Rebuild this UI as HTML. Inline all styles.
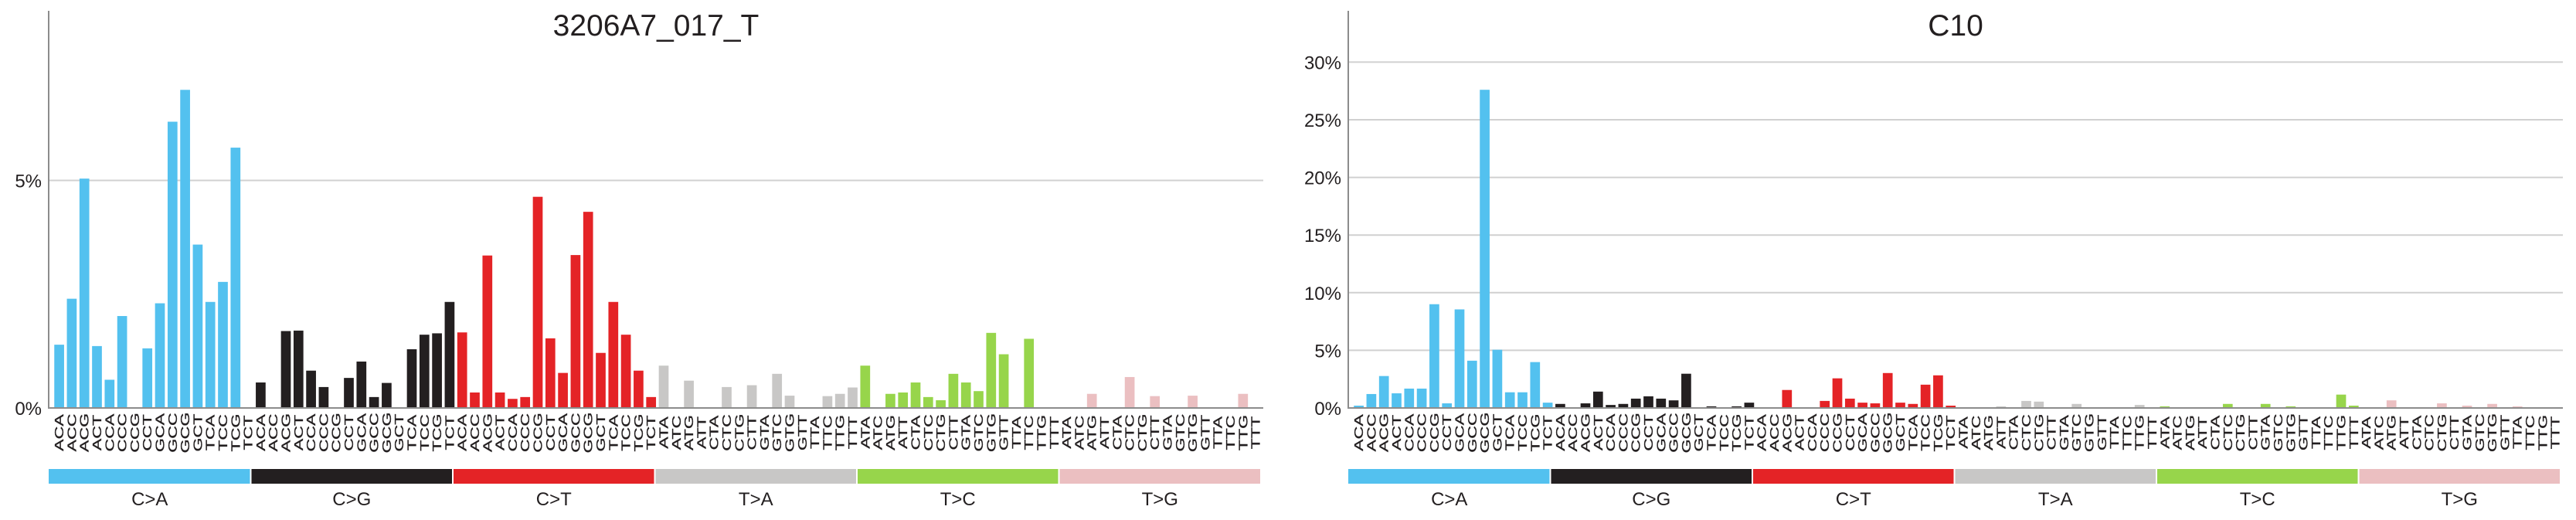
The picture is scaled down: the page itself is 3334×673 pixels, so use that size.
<!DOCTYPE html>
<html><head><meta charset="utf-8"><style>
html,body{margin:0;padding:0;background:#fff;}
svg{display:block;font-family:"Liberation Sans",sans-serif;}
</style></head><body>
<svg id="chart" width="3334" height="673" viewBox="0 0 3334 673" xmlns="http://www.w3.org/2000/svg"></svg>
<script>
// ---- data ----
const mutationTypes = ["C>A","C>G","C>T","T>A","T>C","T>G"];
const bases = ["A","C","G","T"];
const leftTitle = "3206A7_017_T";
const rightTitle = "C10";
const leftValues = [
 1.39,2.40,5.04,1.36,0.62,2.02,0,1.31,2.30,6.29,6.99,3.59,2.33,2.77,5.72,0,
 0.56,0,1.69,1.70,0.82,0.46,0,0.66,1.02,0.24,0.55,0,1.29,1.61,1.64,2.33,
 1.66,0.34,3.35,0.34,0.20,0.24,4.64,1.53,0.77,3.36,4.31,1.21,2.33,1.61,0.82,0.24,
 0.93,0,0.60,0,0,0.46,0,0.50,0,0.75,0.27,0,0,0.26,0.31,0.45,
 0.93,0,0.31,0.34,0.56,0.24,0.17,0.75,0.56,0.37,1.65,1.18,0,1.52,0,0,
 0,0,0.31,0,0,0.68,0,0.26,0,0,0.27,0,0,0,0.31,0
];
const rightValues = [
 0.20,1.21,2.77,1.27,1.68,1.68,9.00,0.40,8.55,4.10,27.6,5.05,1.36,1.36,3.98,0.46,
 0.35,0,0.40,1.42,0.26,0.35,0.81,1.01,0.81,0.66,2.97,0,0.14,0,0.14,0.46,
 0,0,1.56,0,0,0.61,2.57,0.81,0.46,0.40,3.03,0.46,0.35,2.02,2.83,0.20,
 0,0,0,0.14,0,0.61,0.55,0,0,0.35,0,0,0,0,0.26,0,
 0.14,0,0,0,0,0.35,0,0,0.35,0,0.14,0,0,0,1.16,0.20,
 0,0,0.66,0,0,0,0.40,0,0.20,0,0.35,0,0.14,0,0,0
];
const leftTicks = [0,5];
const leftTickLabels = ["0%","5%"];
const rightTicks = [0,5,10,15,20,25,30];
const rightTickLabels = ["0%","5%","10%","15%","20%","25%","30%"];

const colors = ["#53C1EF","#231F20","#E42326","#C8C7C6","#97D54B","#EBBFC1"];
const NS = "http://www.w3.org/2000/svg";
const svg = document.getElementById("chart");
function mk(tag, attrs, parent){
  const e = document.createElementNS(NS, tag);
  for (const k in attrs) e.setAttribute(k, attrs[k]);
  (parent||svg).appendChild(e);
  return e;
}

function drawPanel(ox, values, ticks, tickLabels, pxPerPct, title, pid){
  const g = mk("g", {});
  
  
  const y0 = 528, axisTop = 14, axisX = ox, right = ox + 1572;
  const yScale = v => y0 - v * pxPerPct;
  const xCenter = i => ox + 13.6 + i * 16.3;
  ticks.forEach((t, i) => {
    if (t > 0) {
      const gl = mk("line", {x1: axisX, x2: right, y1: yScale(t), y2: yScale(t), stroke: "#d0d0d0", "stroke-width": 2}, g);
      
      
    }
    const tl = mk("text", {x: axisX - 9, y: yScale(t) + 9, "text-anchor": "end", "font-size": 24, fill: "#231f20"}, g);
    tl.textContent = tickLabels[i];
    
    
  });
  values.forEach((v, i) => {
    const cat = Math.floor(i / 16);
    if (v > 0) {
      const b = mk("rect", {x: xCenter(i) - 6.35, width: 12.7, y: yScale(v), height: v * pxPerPct, fill: colors[cat]}, g);
      
      
    }
    const k = i % 16;
    const ctx = bases[Math.floor(k / 4)] + (cat < 3 ? "C" : "T") + bases[k % 4];
    const t = mk("text", {transform: "translate(" + (xCenter(i) + 5.5) + ",560) rotate(-90) scale(1.45,1)", "text-anchor": "middle", "font-size": 16, fill: "#231f20", stroke: "#231f20", "stroke-width": 0.3}, g);
    t.textContent = ctx;
    
    
  });
  const ya = mk("line", {x1: axisX, x2: axisX, y1: axisTop, y2: y0 + 1, stroke: "#8c8c8c", "stroke-width": 2}, g);
  
  
  const xa = mk("line", {x1: axisX, x2: right, y1: y0, y2: y0, stroke: "#8c8c8c", "stroke-width": 2}, g);
  
  
  const segW = 1569 / 6;
  mutationTypes.forEach((m, c) => {
    const sx = ox + c * segW;
    const r = mk("rect", {x: sx + (c ? 1 : 0), y: 607, width: segW - (c ? 2 : 1), height: 19, fill: colors[c]}, g);
    
    
    const lt = mk("text", {x: sx + segW / 2, y: 654, "text-anchor": "middle", "font-size": 24, fill: "#231f20"}, g);
    lt.textContent = m;
    
    
  });
  const tt = mk("text", {x: ox + 786, y: 46, "text-anchor": "middle", "font-size": 39, fill: "#231f20"}, g);
  tt.textContent = title;
  
  
}
drawPanel(63, leftValues, leftTicks, leftTickLabels, 58.9, leftTitle, "left");
drawPanel(1745, rightValues, rightTicks, rightTickLabels, 14.92, rightTitle, "right");
</script>
</body></html>
